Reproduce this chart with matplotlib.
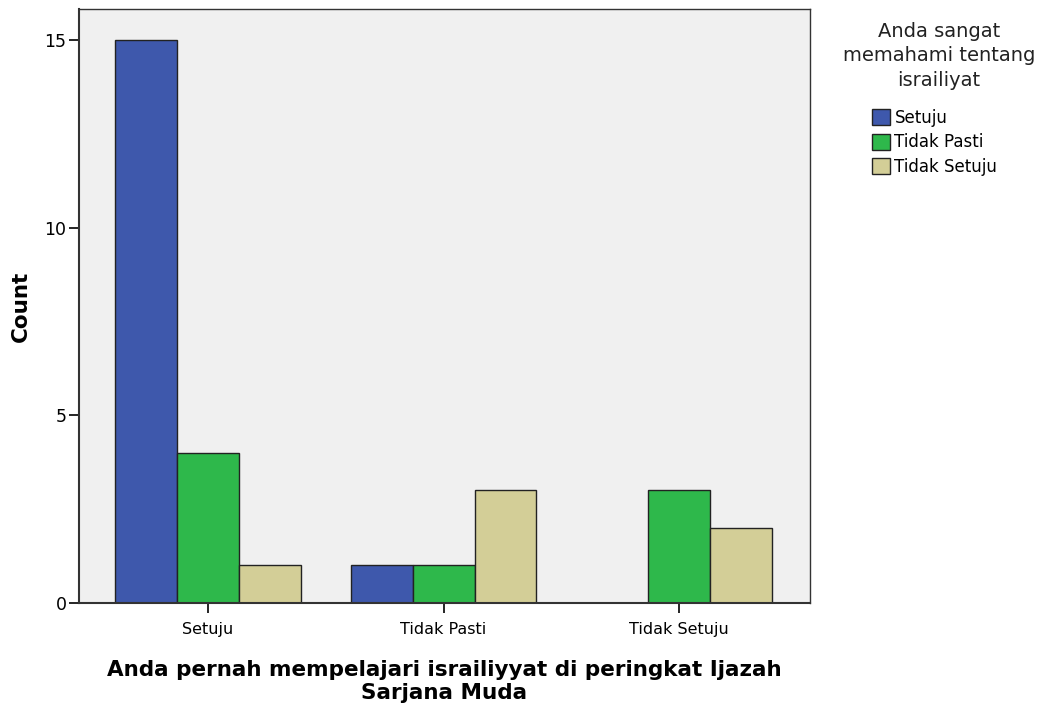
import numpy as np
import matplotlib.pyplot as plt

plt.rcParams['font.family'] = ['DejaVu Sans']

categories = ['Setuju', 'Tidak Pasti', 'Tidak Setuju']
series_names = ['Setuju', 'Tidak Pasti', 'Tidak Setuju']
counts = {
    'Setuju': [15, 1, 0],
    'Tidak Pasti': [4, 1, 3],
    'Tidak Setuju': [1, 3, 2],
}
colors = ['#3E58AC', '#2EB84B', '#D3CE97']
legend_title = 'Anda sangat\nmemahami tentang\nisrailiyat'

fig = plt.figure(figsize=(10.5, 7.13), dpi=100)
ax = fig.add_axes([79 / 1050, 1 - 603 / 713, (810 - 79) / 1050, (603 - 9) / 713])
ax.set_facecolor('#F0F0F0')

x = np.arange(len(categories))
width = 0.263
for i, name in enumerate(series_names):
    vals = np.array(counts[name])
    pos = x + (i - 1) * width
    mask = vals > 0  # zero counts get no bar
    ax.bar(pos[mask], vals[mask], width, color=colors[i], edgecolor='#222222',
           linewidth=1.0, label=name, zorder=2)

ax.set_xlim(-0.548, 2.556)
ax.set_ylim(0, 15.83)
ax.set_yticks([0, 5, 10, 15])
ax.set_xticks(x)
ax.set_xticklabels(categories, fontsize=11.5)
ax.tick_params(axis='y', labelsize=12.5, length=7, width=1.2, direction='out', pad=2)
ax.tick_params(axis='x', length=7, width=1.2, direction='out', pad=7)
for s in ax.spines.values():
    s.set_color('#333333')
    s.set_linewidth(1.0)
ax.spines['left'].set_linewidth(1.5)
ax.spines['bottom'].set_linewidth(1.5)

ax.set_ylabel('Count', fontsize=15.5, fontweight='bold', labelpad=10)
ax.set_xlabel('Anda pernah mempelajari israiliyyat di peringkat Ijazah\nSarjana Muda',
              fontsize=15.5, fontweight='bold', labelpad=16, linespacing=1.2)

fig.text(939 / 1050, 1 - 22 / 713, legend_title, ha='center', va='top',
         fontsize=14, linespacing=1.35, color='#222222')
leg = ax.legend(loc='upper left', bbox_to_anchor=(872 / 1050, 1 - 109 / 713),
                bbox_transform=fig.transFigure, frameon=False, fontsize=12,
                handlelength=1.1, handleheight=1.1, handletextpad=0.25,
                labelspacing=0.38, borderpad=0, borderaxespad=0)

fig.savefig('out.png', dpi=100)
